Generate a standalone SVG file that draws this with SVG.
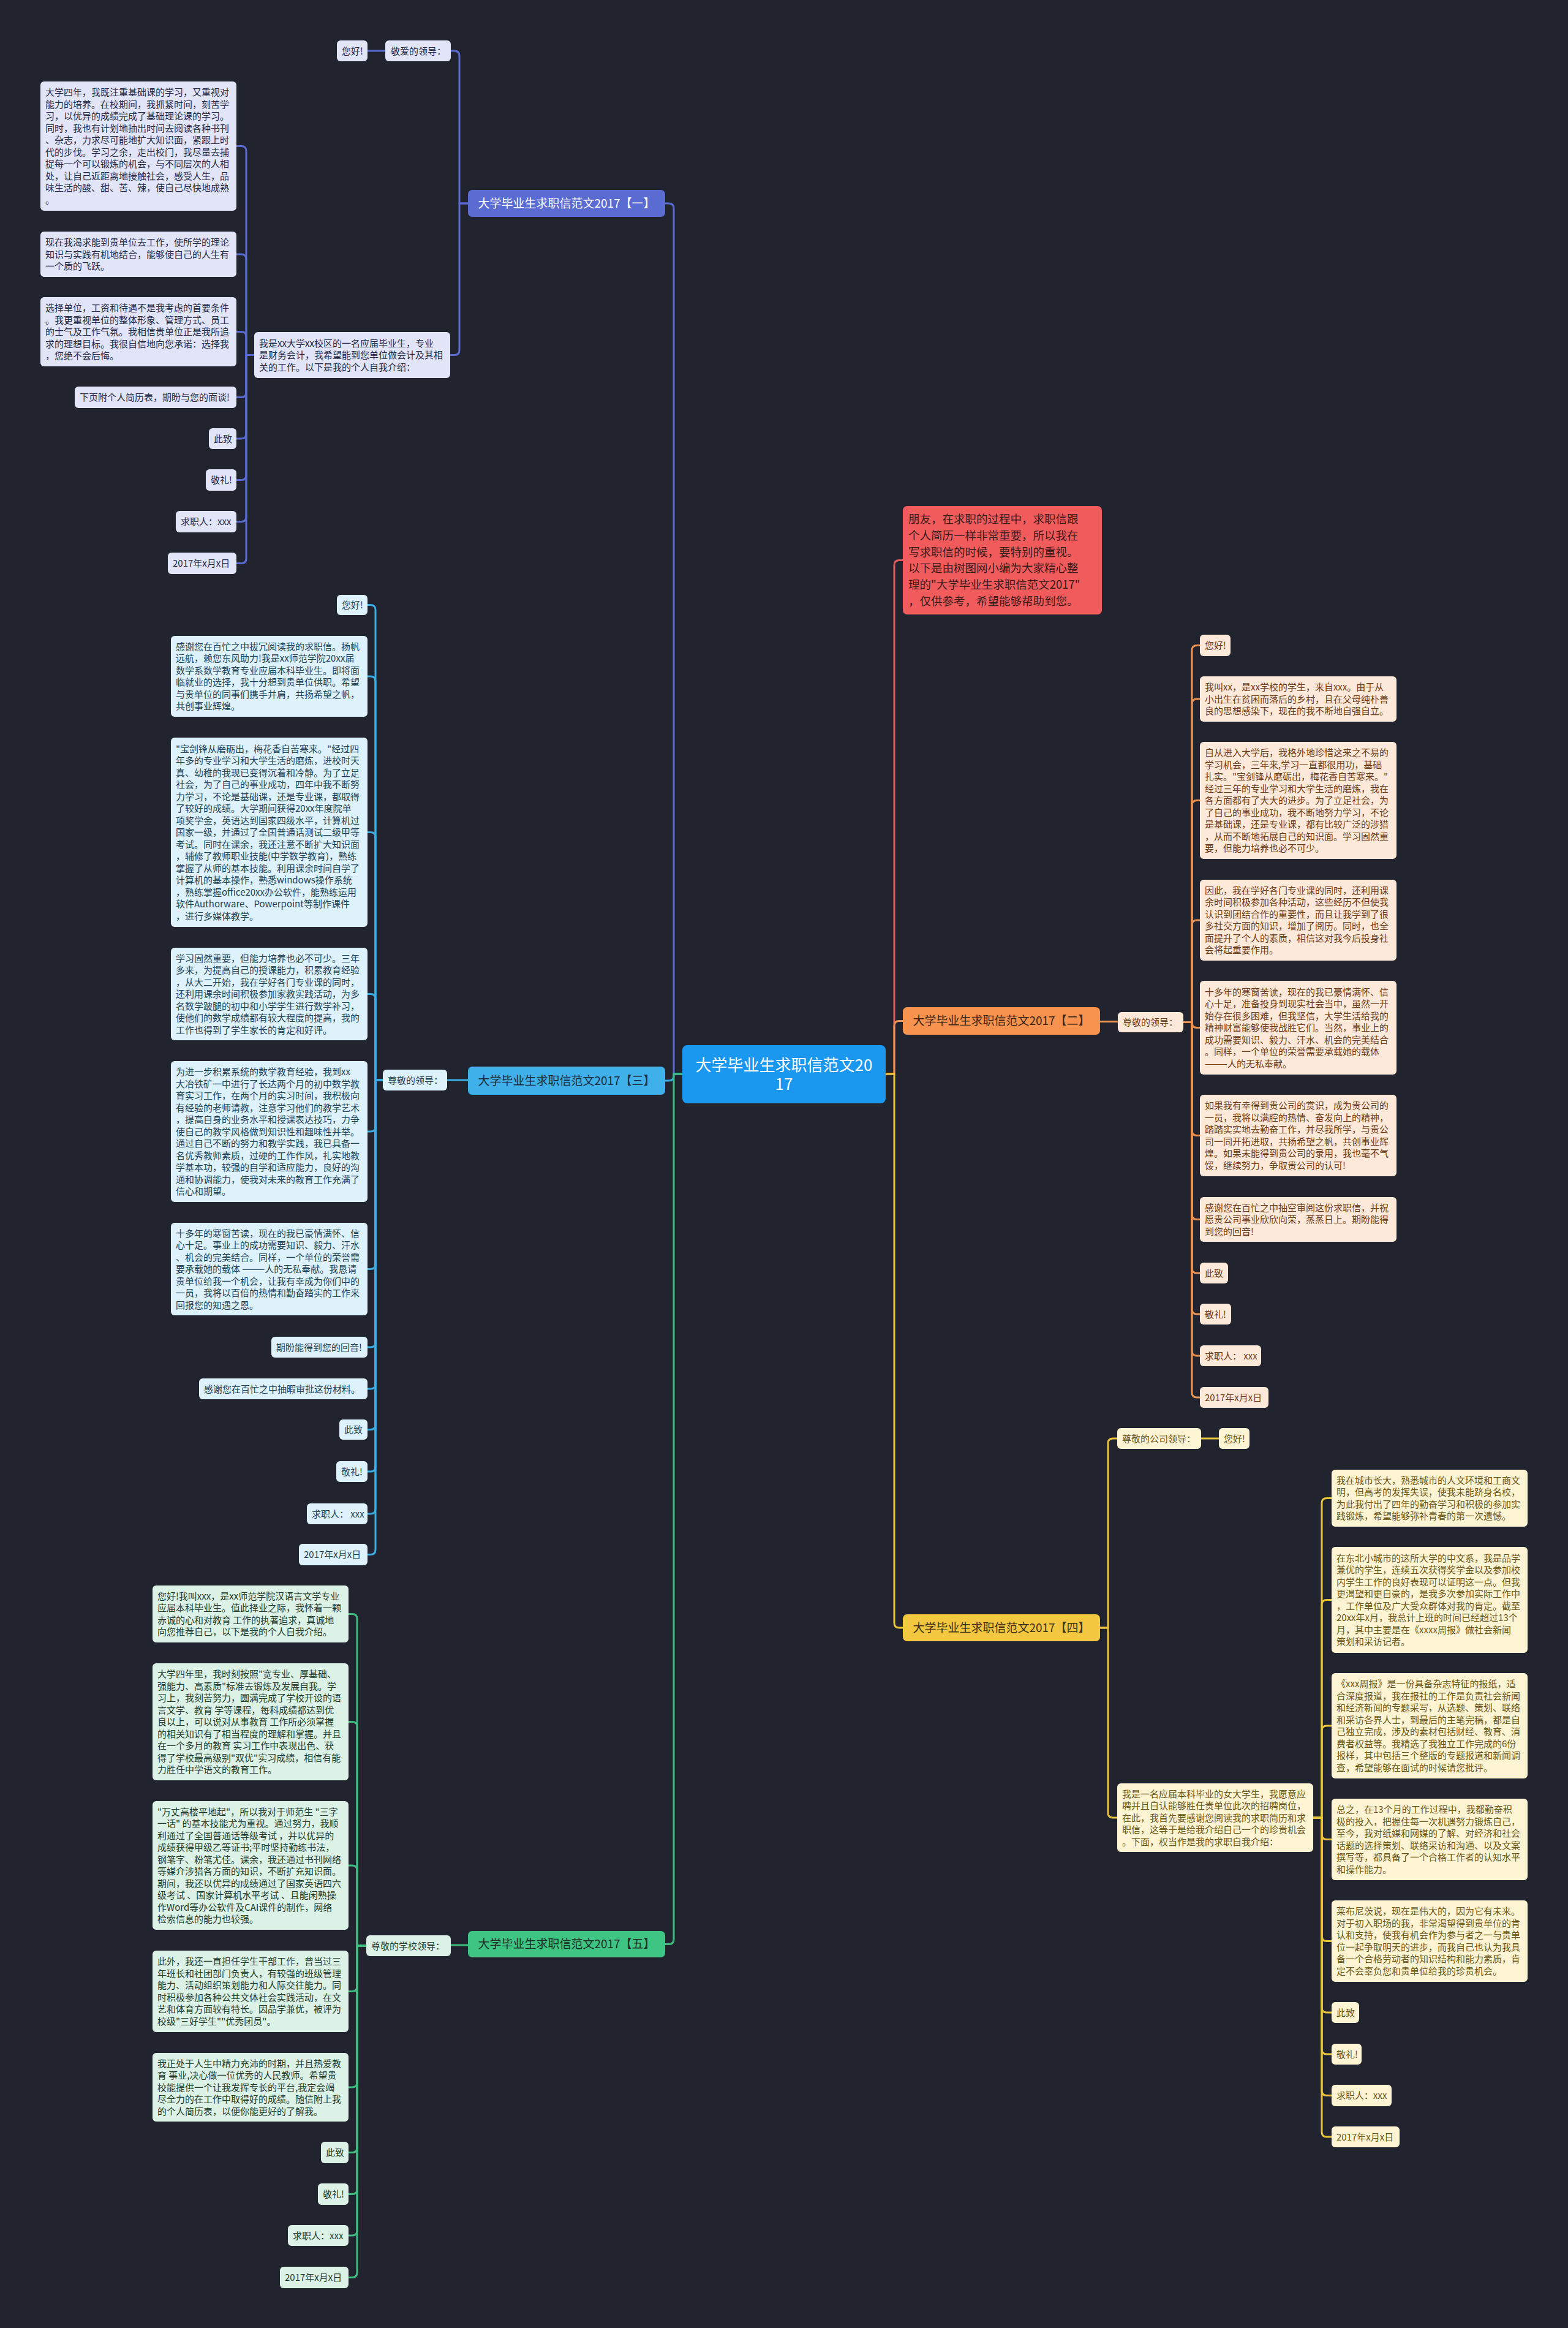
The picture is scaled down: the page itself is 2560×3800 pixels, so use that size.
<svg xmlns="http://www.w3.org/2000/svg" width="2560" height="3800" viewBox="0 0 2560 3800">
<style>
text{font-family:"Noto Sans CJK SC","Noto Sans",sans-serif;font-size:15px}
.c{fill:none;stroke-width:3;stroke-linecap:round;stroke-linejoin:round}
.c1{stroke:#5a6bd2}.c2{stroke:#ee9250}.c3{stroke:#3aaee2}.c4{stroke:#eac43c}.c5{stroke:#3dbe80}.cr{stroke:#e25a5a}
.n1 rect{fill:#e2e5f7}.n1 text{fill:#242a47}
.n2 rect{fill:#fde9d9}.n2 text{fill:#6e3a14}
.n3 rect{fill:#ddf2fb}.n3 text{fill:#1e4257}
.n4 rect{fill:#fdf4d4}.n4 text{fill:#6b5614}
.n5 rect{fill:#dcf2e6}.n5 text{fill:#1f3b2c}
.t text{font-size:19px;text-anchor:middle}
</style>
<rect width="2560" height="3800" fill="#21242f"/>

<g id="connectors">
<path class="c c1" d="M1114 1753H1100V340Q1100 332 1092 332H1086"/>
<path class="c c3" d="M1114 1753H1100V1756Q1100 1764 1092 1764H1086"/>
<path class="c c5" d="M1114 1753H1100V3165.5Q1100 3173.5 1092 3173.5H1086"/>
<path class="c cr" d="M1446 1753H1460V922.5Q1460 914.5 1468 914.5H1474"/>
<path class="c c2" d="M1446 1753H1460V1674.5Q1460 1666.5 1468 1666.5H1474"/>
<path class="c c4" d="M1446 1753H1460V2649Q1460 2657 1468 2657H1474"/>

<path class="c c1" d="M764 332H750V91Q750 83 742 83H736"/>
<path class="c c1" d="M764 332H750V571.5Q750 579.5 742 579.5H735"/>
<path class="c c1" d="M629 83H600"/>
<path class="c c1" d="M415 579.5H402V246.5Q402 238.5 394 238.5H386"/>
<path class="c c1" d="M415 579.5H402V423Q402 415 394 415H386"/>
<path class="c c1" d="M415 579.5H402V549.5Q402 541.5 394 541.5H386"/>
<path class="c c1" d="M415 579.5H402V640.5Q402 648.5 394 648.5H386"/>
<path class="c c1" d="M415 579.5H402V708Q402 716 394 716H386"/>
<path class="c c1" d="M415 579.5H402V775.5Q402 783.5 394 783.5H386"/>
<path class="c c1" d="M415 579.5H402V843.5Q402 851.5 394 851.5H386"/>
<path class="c c1" d="M415 579.5H402V911.5Q402 919.5 394 919.5H386"/>

<path class="c c3" d="M764 1763H730"/>
<path class="c c3" d="M625 1763H613V995.5Q613 987.5 605 987.5H600"/>
<path class="c c3" d="M625 1763H613V1112Q613 1104 605 1104H600"/>
<path class="c c3" d="M625 1763H613V1366.5Q613 1358.5 605 1358.5H600"/>
<path class="c c3" d="M625 1763H613V1630.5Q613 1622.5 605 1622.5H600"/>
<path class="c c3" d="M625 1763H613V1839Q613 1847 605 1847H600"/>
<path class="c c3" d="M625 1763H613V2063.5Q613 2071.5 605 2071.5H600"/>
<path class="c c3" d="M625 1763H613V2191Q613 2199 605 2199H600"/>
<path class="c c3" d="M625 1763H613V2259Q613 2267 605 2267H600"/>
<path class="c c3" d="M625 1763H613V2325.5Q613 2333.5 605 2333.5H600"/>
<path class="c c3" d="M625 1763H613V2394Q613 2402 605 2402H600"/>
<path class="c c3" d="M625 1763H613V2463Q613 2471 605 2471H600"/>
<path class="c c3" d="M625 1763H613V2529.5Q613 2537.5 605 2537.5H600"/>

<path class="c c5" d="M764 3175H736"/>
<path class="c c5" d="M598 3176H583V2642.5Q583 2634.5 575 2634.5H569"/>
<path class="c c5" d="M598 3176H583V2818.5Q583 2810.5 575 2810.5H569"/>
<path class="c c5" d="M598 3176H583V3053Q583 3045 575 3045H569"/>
<path class="c c5" d="M598 3176H583V3242.5Q583 3250.5 575 3250.5H569"/>
<path class="c c5" d="M598 3176H583V3399Q583 3407 575 3407H569"/>
<path class="c c5" d="M598 3176H583V3505.5Q583 3513.5 575 3513.5H569"/>
<path class="c c5" d="M598 3176H583V3573.5Q583 3581.5 575 3581.5H569"/>
<path class="c c5" d="M598 3176H583V3641Q583 3649 575 3649H569"/>
<path class="c c5" d="M598 3176H583V3709.5Q583 3717.5 575 3717.5H569"/>

<path class="c c2" d="M1796 1667.5H1825"/>
<path class="c c2" d="M1932 1668.5H1946V1061.5Q1946 1053.5 1954 1053.5H1959"/>
<path class="c c2" d="M1932 1668.5H1946V1149Q1946 1141 1954 1141H1959"/>
<path class="c c2" d="M1932 1668.5H1946V1314.5Q1946 1306.5 1954 1306.5H1959"/>
<path class="c c2" d="M1932 1668.5H1946V1510Q1946 1502 1954 1502H1959"/>
<path class="c c2" d="M1932 1668.5H1946V1669.5Q1946 1677.5 1954 1677.5H1959"/>
<path class="c c2" d="M1932 1668.5H1946V1845.5Q1946 1853.5 1954 1853.5H1959"/>
<path class="c c2" d="M1932 1668.5H1946V1982.5Q1946 1990.5 1954 1990.5H1959"/>
<path class="c c2" d="M1932 1668.5H1946V2070Q1946 2078 1954 2078H1959"/>
<path class="c c2" d="M1932 1668.5H1946V2137Q1946 2145 1954 2145H1959"/>
<path class="c c2" d="M1932 1668.5H1946V2205Q1946 2213 1954 2213H1959"/>
<path class="c c2" d="M1932 1668.5H1946V2273Q1946 2281 1954 2281H1959"/>

<path class="c c4" d="M1796 2657H1809V2356Q1809 2348 1817 2348H1824"/>
<path class="c c4" d="M1796 2657H1809V2959Q1809 2967 1817 2967H1824"/>
<path class="c c4" d="M1961 2348H1990"/>
<path class="c c4" d="M2144 2967H2158V2453.5Q2158 2445.5 2166 2445.5H2174"/>
<path class="c c4" d="M2144 2967H2158V2619.5Q2158 2611.5 2166 2611.5H2174"/>
<path class="c c4" d="M2144 2967H2158V2825Q2158 2817 2166 2817H2174"/>
<path class="c c4" d="M2144 2967H2158V2994.5Q2158 3002.5 2166 3002.5H2174"/>
<path class="c c4" d="M2144 2967H2158V3160.5Q2158 3168.5 2166 3168.5H2174"/>
<path class="c c4" d="M2144 2967H2158V3277Q2158 3285 2166 3285H2174"/>
<path class="c c4" d="M2144 2967H2158V3345Q2158 3353 2166 3353H2174"/>
<path class="c c4" d="M2144 2967H2158V3412.5Q2158 3420.5 2166 3420.5H2174"/>
<path class="c c4" d="M2144 2967H2158V3480Q2158 3488 2166 3488H2174"/>
</g>

<g id="center">
<rect x="1114" y="1706" width="332" height="95" rx="8" fill="#1a97ee"/>
<text x="1280" y="1748" font-size="26" fill="#ffffff" text-anchor="middle" style="font-size:26px">大学毕业生求职信范文20</text>
<text x="1280" y="1779" font-size="26" fill="#ffffff" text-anchor="middle" style="font-size:26px">17</text>
</g>

<g id="intro">
<rect x="1474" y="826" width="325" height="177" rx="7" fill="#f25b5b"/>
<text x="1483" y="854" fill="#3a1c1c" style="font-size:18.5px"><tspan x="1483">朋友，在求职的过程中，求职信跟</tspan><tspan x="1483" dy="26.8">个人简历一样非常重要，所以我在</tspan><tspan x="1483" dy="26.8">写求职信的时候，要特别的重视。</tspan><tspan x="1483" dy="26.8">以下是由树图网小编为大家精心整</tspan><tspan x="1483" dy="26.8">理的"大学毕业生求职信范文2017"</tspan><tspan x="1483" dy="26.8">，仅供参考，希望能够帮助到您。</tspan></text>
</g>

<!-- Branch 1 -->
<g id="b1-title" class="t"><rect x="764" y="310" width="322" height="44" rx="7" fill="#5a6bd2"/><text x="925" y="338.5" fill="#ffffff">大学毕业生求职信范文2017【一】</text></g>
<g id="b1-leader" class="n1"><rect x="629" y="66" width="107" height="34" rx="6"/><text x="638" y="88.5">敬爱的领导：</text></g>
<g id="b1-hello" class="n1"><rect x="550" y="66" width="50" height="34" rx="6"/><text x="558" y="88.5">您好!</text></g>
<g id="b1-intro" class="n1"><rect x="415" y="542" width="320" height="75" rx="6"/><text x="423" y="565.5"><tspan x="423">我是xx大学xx校区的一名应届毕业生，专业</tspan><tspan x="423" dy="19.5">是财务会计，我希望能到您单位做会计及其相</tspan><tspan x="423" dy="19.5">关的工作。以下是我的个人自我介绍：</tspan></text></g>
<g id="b1-p1" class="n1"><rect x="66" y="133" width="320" height="211" rx="6"/><text x="74" y="156.25"><tspan x="74">大学四年，我既注重基础课的学习，又重视对</tspan><tspan x="74" dy="19.5">能力的培养。在校期间，我抓紧时间，刻苦学</tspan><tspan x="74" dy="19.5">习，以优异的成绩完成了基础理论课的学习。</tspan><tspan x="74" dy="19.5">同时，我也有计划地抽出时间去阅读各种书刊</tspan><tspan x="74" dy="19.5">、杂志，力求尽可能地扩大知识面，紧跟上时</tspan><tspan x="74" dy="19.5">代的步伐。学习之余，走出校门，我尽量去捕</tspan><tspan x="74" dy="19.5">捉每一个可以锻炼的机会，与不同层次的人相</tspan><tspan x="74" dy="19.5">处，让自己近距离地接触社会，感受人生，品</tspan><tspan x="74" dy="19.5">味生活的酸、甜、苦、辣，使自己尽快地成熟</tspan><tspan x="74" dy="19.5">。</tspan></text></g>
<g id="b1-p2" class="n1"><rect x="66" y="378" width="320" height="74" rx="6"/><text x="74" y="401"><tspan x="74">现在我渴求能到贵单位去工作，使所学的理论</tspan><tspan x="74" dy="19.5">知识与实践有机地结合，能够使自己的人生有</tspan><tspan x="74" dy="19.5">一个质的飞跃。</tspan></text></g>
<g id="b1-p3" class="n1"><rect x="66" y="485" width="320" height="113" rx="6"/><text x="74" y="508"><tspan x="74">选择单位，工资和待遇不是我考虑的首要条件</tspan><tspan x="74" dy="19.5">。我更重视单位的整体形象、管理方式、员工</tspan><tspan x="74" dy="19.5">的士气及工作气氛。我相信贵单位正是我所追</tspan><tspan x="74" dy="19.5">求的理想目标。我很自信地向您承诺：选择我</tspan><tspan x="74" dy="19.5">，您绝不会后悔。</tspan></text></g>
<g id="b1-p4" class="n1"><rect x="122" y="631" width="264" height="35" rx="6"/><text x="130" y="654">下页附个人简历表，期盼与您的面谈!</text></g>
<g id="b1-p5" class="n1"><rect x="341" y="699" width="45" height="34" rx="6"/><text x="349" y="721.5">此致</text></g>
<g id="b1-p6" class="n1"><rect x="336" y="766" width="50" height="35" rx="6"/><text x="344" y="789">敬礼!</text></g>
<g id="b1-p7" class="n1"><rect x="287" y="834" width="99" height="35" rx="6"/><text x="295" y="857">求职人：xxx</text></g>
<g id="b1-p8" class="n1"><rect x="274" y="902" width="112" height="35" rx="6"/><text x="282" y="925">2017年x月x日</text></g>

<!-- Branch 3 -->
<g id="b3-title" class="t"><rect x="764" y="1741" width="322" height="46" rx="7" fill="#3fb0ea"/><text x="925" y="1770.5" fill="#1d2b3a">大学毕业生求职信范文2017【三】</text></g>
<g id="b3-leader" class="n3"><rect x="625" y="1746" width="105" height="34" rx="6"/><text x="633" y="1768.5">尊敬的领导：</text></g>
<g id="b3-hello" class="n3"><rect x="550" y="971" width="50" height="33" rx="6"/><text x="558" y="993">您好!</text></g>
<g id="b3-p1" class="n3"><rect x="279" y="1038" width="321" height="132" rx="6"/><text x="287" y="1060.75"><tspan x="287">感谢您在百忙之中拔冗阅读我的求职信。扬帆</tspan><tspan x="287" dy="19.5">远航，赖您东风助力!我是xx师范学院20xx届</tspan><tspan x="287" dy="19.5">数学系数学教育专业应届本科毕业生。即将面</tspan><tspan x="287" dy="19.5">临就业的选择，我十分想到贵单位供职。希望</tspan><tspan x="287" dy="19.5">与贵单位的同事们携手并肩，共扬希望之帆，</tspan><tspan x="287" dy="19.5">共创事业辉煌。</tspan></text></g>
<g id="b3-p2" class="n3"><rect x="279" y="1204" width="321" height="309" rx="6"/><text x="287" y="1227.5"><tspan x="287">"宝剑锋从磨砺出，梅花香自苦寒来。"经过四</tspan><tspan x="287" dy="19.5">年多的专业学习和大学生活的磨炼，进校时天</tspan><tspan x="287" dy="19.5">真、幼稚的我现已变得沉着和冷静。为了立足</tspan><tspan x="287" dy="19.5">社会，为了自己的事业成功，四年中我不断努</tspan><tspan x="287" dy="19.5">力学习，不论是基础课，还是专业课，都取得</tspan><tspan x="287" dy="19.5">了较好的成绩。大学期间获得20xx年度院单</tspan><tspan x="287" dy="19.5">项奖学金，英语达到国家四级水平，计算机过</tspan><tspan x="287" dy="19.5">国家一级，并通过了全国普通话测试二级甲等</tspan><tspan x="287" dy="19.5">考试。同时在课余，我还注意不断扩大知识面</tspan><tspan x="287" dy="19.5">，辅修了教师职业技能(中学数学教育)，熟练</tspan><tspan x="287" dy="19.5">掌握了从师的基本技能。利用课余时间自学了</tspan><tspan x="287" dy="19.5">计算机的基本操作，熟悉windows操作系统</tspan><tspan x="287" dy="19.5">，熟练掌握office20xx办公软件，能熟练运用</tspan><tspan x="287" dy="19.5">软件Authorware、Powerpoint等制作课件</tspan><tspan x="287" dy="19.5">，进行多媒体教学。</tspan></text></g>
<g id="b3-p3" class="n3"><rect x="279" y="1547" width="321" height="151" rx="6"/><text x="287" y="1569.5"><tspan x="287">学习固然重要，但能力培养也必不可少。三年</tspan><tspan x="287" dy="19.5">多来，为提高自己的授课能力，积累教育经验</tspan><tspan x="287" dy="19.5">，从大二开始，我在学好各门专业课的同时，</tspan><tspan x="287" dy="19.5">还利用课余时间积极参加家教实践活动，为多</tspan><tspan x="287" dy="19.5">名数学跛腿的初中和小学学生进行数学补习，</tspan><tspan x="287" dy="19.5">使他们的数学成绩都有较大程度的提高，我的</tspan><tspan x="287" dy="19.5">工作也得到了学生家长的肯定和好评。</tspan></text></g>
<g id="b3-p4" class="n3"><rect x="279" y="1732" width="321" height="230" rx="6"/><text x="287" y="1755"><tspan x="287">为进一步积累系统的数学教育经验，我到xx</tspan><tspan x="287" dy="19.5">大冶铁矿一中进行了长达两个月的初中数学教</tspan><tspan x="287" dy="19.5">育实习工作，在两个月的实习时间，我积极向</tspan><tspan x="287" dy="19.5">有经验的老师请教，注意学习他们的教学艺术</tspan><tspan x="287" dy="19.5">，提高自身的业务水平和授课表达技巧，力争</tspan><tspan x="287" dy="19.5">使自己的教学风格做到知识性和趣味性并举。</tspan><tspan x="287" dy="19.5">通过自己不断的努力和教学实践，我已具备一</tspan><tspan x="287" dy="19.5">名优秀教师素质，过硬的工作作风，扎实地教</tspan><tspan x="287" dy="19.5">学基本功，较强的自学和适应能力，良好的沟</tspan><tspan x="287" dy="19.5">通和协调能力，使我对未来的教育工作充满了</tspan><tspan x="287" dy="19.5">信心和期望。</tspan></text></g>
<g id="b3-p5" class="n3"><rect x="279" y="1996" width="321" height="151" rx="6"/><text x="287" y="2018.5"><tspan x="287">十多年的寒窗苦读，现在的我已豪情满怀、信</tspan><tspan x="287" dy="19.5">心十足。事业上的成功需要知识、毅力、汗水</tspan><tspan x="287" dy="19.5">、机会的完美结合。同样，一个单位的荣誉需</tspan><tspan x="287" dy="19.5">要承载她的载体 ———人的无私奉献。我恳请</tspan><tspan x="287" dy="19.5">贵单位给我一个机会，让我有幸成为你们中的</tspan><tspan x="287" dy="19.5">一员，我将以百倍的热情和勤奋踏实的工作来</tspan><tspan x="287" dy="19.5">回报您的知遇之恩。</tspan></text></g>
<g id="b3-p6" class="n3"><rect x="443" y="2182" width="157" height="34" rx="6"/><text x="451" y="2204.5">期盼能得到您的回音!</text></g>
<g id="b3-p7" class="n3"><rect x="325" y="2250" width="275" height="34" rx="6"/><text x="333" y="2272.5">感谢您在百忙之中抽暇审批这份材料。</text></g>
<g id="b3-p8" class="n3"><rect x="554" y="2317" width="46" height="33" rx="6"/><text x="562" y="2339">此致</text></g>
<g id="b3-p9" class="n3"><rect x="549" y="2385" width="51" height="34" rx="6"/><text x="557" y="2407.5">敬礼!</text></g>
<g id="b3-p10" class="n3"><rect x="501" y="2454" width="99" height="34" rx="6"/><text x="509" y="2476.5">求职人： xxx</text></g>
<g id="b3-p11" class="n3"><rect x="488" y="2520" width="112" height="35" rx="6"/><text x="496" y="2543">2017年x月x日</text></g>

<!-- Branch 5 -->
<g id="b5-title" class="t"><rect x="764" y="3152" width="322" height="43" rx="7" fill="#3ec483"/><text x="925" y="3180" fill="#1d2f26">大学毕业生求职信范文2017【五】</text></g>
<g id="b5-leader" class="n5"><rect x="598" y="3159" width="138" height="34" rx="6"/><text x="606" y="3181.5">尊敬的学校领导：</text></g>
<g id="b5-p1" class="n5"><rect x="249" y="2588" width="320" height="93" rx="6"/><text x="257" y="2610.75"><tspan x="257">您好!我叫xxx，是xx师范学院汉语言文学专业</tspan><tspan x="257" dy="19.5">应届本科毕业生。值此择业之际，我怀着一颗</tspan><tspan x="257" dy="19.5">赤诚的心和对教育 工作的执著追求，真诚地</tspan><tspan x="257" dy="19.5">向您推荐自己，以下是我的个人自我介绍。</tspan></text></g>
<g id="b5-p2" class="n5"><rect x="249" y="2715" width="320" height="191" rx="6"/><text x="257" y="2738"><tspan x="257">大学四年里，我时刻按照"宽专业、厚基础、</tspan><tspan x="257" dy="19.5">强能力、高素质"标准去锻炼及发展自我。学</tspan><tspan x="257" dy="19.5">习上，我刻苦努力，圆满完成了学校开设的语</tspan><tspan x="257" dy="19.5">言文学、教育 学等课程，每科成绩都达到优</tspan><tspan x="257" dy="19.5">良以上，可以说对从事教育 工作所必须掌握</tspan><tspan x="257" dy="19.5">的相关知识有了相当程度的理解和掌握。并且</tspan><tspan x="257" dy="19.5">在一个多月的教育 实习工作中表现出色、获</tspan><tspan x="257" dy="19.5">得了学校最高级别"双优"实习成绩，相信有能</tspan><tspan x="257" dy="19.5">力胜任中学语文的教育工作。</tspan></text></g>
<g id="b5-p3" class="n5"><rect x="249" y="2940" width="320" height="210" rx="6"/><text x="257" y="2962.75"><tspan x="257">"万丈高楼平地起"，所以我对于师范生 "三字</tspan><tspan x="257" dy="19.5">一话" 的基本技能尤为重视。通过努力，我顺</tspan><tspan x="257" dy="19.5">利通过了全国普通话等级考试 ，并以优异的</tspan><tspan x="257" dy="19.5">成绩获得甲级乙等证书;平时坚持勤练书法，</tspan><tspan x="257" dy="19.5">钢笔字、粉笔尤佳。课余，我还通过书刊网络</tspan><tspan x="257" dy="19.5">等媒介涉猎各方面的知识，不断扩充知识面。</tspan><tspan x="257" dy="19.5">期间，我还以优异的成绩通过了国家英语四六</tspan><tspan x="257" dy="19.5">级考试 、国家计算机水平考试 、且能闲熟操</tspan><tspan x="257" dy="19.5">作Word等办公软件及CAI课件的制作，网络</tspan><tspan x="257" dy="19.5">检索信息的能力也较强。</tspan></text></g>
<g id="b5-p4" class="n5"><rect x="249" y="3184" width="320" height="133" rx="6"/><text x="257" y="3207.25"><tspan x="257">此外，我还一直担任学生干部工作，曾当过三</tspan><tspan x="257" dy="19.5">年班长和社团部门负责人，有较强的班级管理</tspan><tspan x="257" dy="19.5">能力、活动组织策划能力和人际交往能力。同</tspan><tspan x="257" dy="19.5">时积极参加各种公共文体社会实践活动，在文</tspan><tspan x="257" dy="19.5">艺和体育方面较有特长。因品学兼优，被评为</tspan><tspan x="257" dy="19.5">校级"三好学生""优秀团员"。</tspan></text></g>
<g id="b5-p5" class="n5"><rect x="249" y="3351" width="320" height="112" rx="6"/><text x="257" y="3373.5"><tspan x="257">我正处于人生中精力充沛的时期，并且热爱教</tspan><tspan x="257" dy="19.5">育 事业,决心做一位优秀的人民教师。希望贵</tspan><tspan x="257" dy="19.5">校能提供一个让我发挥专长的平台,我定会竭</tspan><tspan x="257" dy="19.5">尽全力的在工作中取得好的成绩。随信附上我</tspan><tspan x="257" dy="19.5">的个人简历表，以便你能更好的了解我。</tspan></text></g>
<g id="b5-p6" class="n5"><rect x="524" y="3496" width="45" height="35" rx="6"/><text x="532" y="3519">此致</text></g>
<g id="b5-p7" class="n5"><rect x="519" y="3564" width="50" height="35" rx="6"/><text x="527" y="3587">敬礼!</text></g>
<g id="b5-p8" class="n5"><rect x="470" y="3632" width="99" height="34" rx="6"/><text x="478" y="3654.5">求职人：xxx</text></g>
<g id="b5-p9" class="n5"><rect x="457" y="3700" width="112" height="35" rx="6"/><text x="465" y="3723">2017年x月x日</text></g>

<!-- Branch 2 -->
<g id="b2-title" class="t"><rect x="1474" y="1644" width="322" height="45" rx="7" fill="#f7934e"/><text x="1635" y="1673" fill="#3a2416">大学毕业生求职信范文2017【二】</text></g>
<g id="b2-leader" class="n2"><rect x="1825" y="1652" width="107" height="33" rx="6"/><text x="1833" y="1674">尊敬的领导：</text></g>
<g id="b2-hello" class="n2"><rect x="1959" y="1036" width="50" height="35" rx="6"/><text x="1967" y="1059">您好!</text></g>
<g id="b2-p1" class="n2"><rect x="1959" y="1104" width="321" height="74" rx="6"/><text x="1967" y="1127"><tspan x="1967">我叫xx，是xx学校的学生，来自xxx。由于从</tspan><tspan x="1967" dy="19.5">小出生在贫困而落后的乡村，且在父母纯朴善</tspan><tspan x="1967" dy="19.5">良的思想感染下，现在的我不断地自强自立。</tspan></text></g>
<g id="b2-p2" class="n2"><rect x="1959" y="1211" width="321" height="191" rx="6"/><text x="1967" y="1234"><tspan x="1967">自从进入大学后，我格外地珍惜这来之不易的</tspan><tspan x="1967" dy="19.5">学习机会，三年来,学习一直都很用功，基础</tspan><tspan x="1967" dy="19.5">扎实。"宝剑锋从磨砺出，梅花香自苦寒来。"</tspan><tspan x="1967" dy="19.5">经过三年的专业学习和大学生活的磨炼，我在</tspan><tspan x="1967" dy="19.5">各方面都有了大大的进步。为了立足社会，为</tspan><tspan x="1967" dy="19.5">了自己的事业成功，我不断地努力学习，不论</tspan><tspan x="1967" dy="19.5">是基础课，还是专业课，都有比较广泛的涉猎</tspan><tspan x="1967" dy="19.5">，从而不断地拓展自己的知识面。学习固然重</tspan><tspan x="1967" dy="19.5">要，但能力培养也必不可少。</tspan></text></g>
<g id="b2-p3" class="n2"><rect x="1959" y="1436" width="321" height="132" rx="6"/><text x="1967" y="1458.75"><tspan x="1967">因此，我在学好各门专业课的同时，还利用课</tspan><tspan x="1967" dy="19.5">余时间积极参加各种活动，这些经历不但使我</tspan><tspan x="1967" dy="19.5">认识到团结合作的重要性，而且让我学到了很</tspan><tspan x="1967" dy="19.5">多社交方面的知识，增加了阅历。同时，也全</tspan><tspan x="1967" dy="19.5">面提升了个人的素质，相信这对我今后投身社</tspan><tspan x="1967" dy="19.5">会将起重要作用。</tspan></text></g>
<g id="b2-p4" class="n2"><rect x="1959" y="1601" width="321" height="153" rx="6"/><text x="1967" y="1624.5"><tspan x="1967">十多年的寒窗苦读，现在的我已豪情满怀、信</tspan><tspan x="1967" dy="19.5">心十足，准备投身到现实社会当中，虽然一开</tspan><tspan x="1967" dy="19.5">始存在很多困难，但我坚信，大学生活给我的</tspan><tspan x="1967" dy="19.5">精神财富能够使我战胜它们。当然，事业上的</tspan><tspan x="1967" dy="19.5">成功需要知识、毅力、汗水、机会的完美结合</tspan><tspan x="1967" dy="19.5">。同样，一个单位的荣誉需要承载她的载体</tspan><tspan x="1967" dy="19.5">———人的无私奉献。</tspan></text></g>
<g id="b2-p5" class="n2"><rect x="1959" y="1787" width="321" height="133" rx="6"/><text x="1967" y="1810.25"><tspan x="1967">如果我有幸得到贵公司的赏识，成为贵公司的</tspan><tspan x="1967" dy="19.5">一员，我将以满腔的热情、奋发向上的精神，</tspan><tspan x="1967" dy="19.5">踏踏实实地去勤奋工作，并尽我所学，与贵公</tspan><tspan x="1967" dy="19.5">司一同开拓进取，共扬希望之帆，共创事业辉</tspan><tspan x="1967" dy="19.5">煌。如果未能得到贵公司的录用，我也毫不气</tspan><tspan x="1967" dy="19.5">馁，继续努力，争取贵公司的认可!</tspan></text></g>
<g id="b2-p6" class="n2"><rect x="1959" y="1954" width="321" height="73" rx="6"/><text x="1967" y="1976.5"><tspan x="1967">感谢您在百忙之中抽空审阅这份求职信，并祝</tspan><tspan x="1967" dy="19.5">愿贵公司事业欣欣向荣，蒸蒸日上。期盼能得</tspan><tspan x="1967" dy="19.5">到您的回音!</tspan></text></g>
<g id="b2-p7" class="n2"><rect x="1959" y="2061" width="46" height="34" rx="6"/><text x="1967" y="2083.5">此致</text></g>
<g id="b2-p8" class="n2"><rect x="1959" y="2128" width="51" height="34" rx="6"/><text x="1967" y="2150.5">敬礼!</text></g>
<g id="b2-p9" class="n2"><rect x="1959" y="2196" width="100" height="34" rx="6"/><text x="1967" y="2218.5">求职人： xxx</text></g>
<g id="b2-p10" class="n2"><rect x="1959" y="2264" width="112" height="34" rx="6"/><text x="1967" y="2286.5">2017年x月x日</text></g>

<!-- Branch 4 -->
<g id="b4-title" class="t"><rect x="1474" y="2635" width="322" height="44" rx="7" fill="#f4c741"/><text x="1635" y="2663.5" fill="#3a3116">大学毕业生求职信范文2017【四】</text></g>
<g id="b4-leader" class="n4"><rect x="1824" y="2331" width="137" height="34" rx="6"/><text x="1832" y="2353.5">尊敬的公司领导：</text></g>
<g id="b4-hello" class="n4"><rect x="1990" y="2331" width="50" height="34" rx="6"/><text x="1998" y="2353.5">您好!</text></g>
<g id="b4-intro" class="n4"><rect x="1824" y="2911" width="320" height="112" rx="6"/><text x="1832" y="2933.5"><tspan x="1832">我是一名应届本科毕业的女大学生，我愿意应</tspan><tspan x="1832" dy="19.5">聘并且自认能够胜任贵单位此次的招聘岗位，</tspan><tspan x="1832" dy="19.5">在此，我首先要感谢您阅读我的求职简历和求</tspan><tspan x="1832" dy="19.5">职信，这等于是给我介绍自己一个的珍贵机会</tspan><tspan x="1832" dy="19.5">。下面，权当作是我的求职自我介绍：</tspan></text></g>
<g id="b4-p1" class="n4"><rect x="2174" y="2399" width="320" height="93" rx="6"/><text x="2182" y="2421.75"><tspan x="2182">我在城市长大，熟悉城市的人文环境和工商文</tspan><tspan x="2182" dy="19.5">明，但高考的发挥失误，使我未能跻身名校，</tspan><tspan x="2182" dy="19.5">为此我付出了四年的勤奋学习和积极的参加实</tspan><tspan x="2182" dy="19.5">践锻炼，希望能够弥补青春的第一次遗憾。</tspan></text></g>
<g id="b4-p2" class="n4"><rect x="2174" y="2525" width="320" height="173" rx="6"/><text x="2182" y="2548.75"><tspan x="2182">在东北小城市的这所大学的中文系，我是品学</tspan><tspan x="2182" dy="19.5">兼优的学生，连续五次获得奖学金以及参加校</tspan><tspan x="2182" dy="19.5">内学生工作的良好表现可以证明这一点。但我</tspan><tspan x="2182" dy="19.5">更渴望和更自豪的，是我多次参加实际工作中</tspan><tspan x="2182" dy="19.5">，工作单位及广大受众群体对我的肯定。截至</tspan><tspan x="2182" dy="19.5">20xx年x月，我总计上班的时间已经超过13个</tspan><tspan x="2182" dy="19.5">月，其中主要是在《xxxx周报》做社会新闻</tspan><tspan x="2182" dy="19.5">策划和采访记者。</tspan></text></g>
<g id="b4-p3" class="n4"><rect x="2174" y="2731" width="320" height="172" rx="6"/><text x="2182" y="2754.25"><tspan x="2182">《xxx周报》是一份具备杂志特征的报纸，适</tspan><tspan x="2182" dy="19.5">合深度报道，我在报社的工作是负责社会新闻</tspan><tspan x="2182" dy="19.5">和经济新闻的专题采写，从选题、策划、联络</tspan><tspan x="2182" dy="19.5">和采访各界人士，到最后的主笔完稿，都是自</tspan><tspan x="2182" dy="19.5">己独立完成，涉及的素材包括财经、教育、消</tspan><tspan x="2182" dy="19.5">费者权益等。我精选了我独立工作完成的6份</tspan><tspan x="2182" dy="19.5">报样，其中包括三个整版的专题报道和新闻调</tspan><tspan x="2182" dy="19.5">查，希望能够在面试的时候请您批评。</tspan></text></g>
<g id="b4-p4" class="n4"><rect x="2174" y="2936" width="320" height="133" rx="6"/><text x="2182" y="2959.25"><tspan x="2182">总之，在13个月的工作过程中，我都勤奋积</tspan><tspan x="2182" dy="19.5">极的投入，把握住每一次机遇努力锻炼自己，</tspan><tspan x="2182" dy="19.5">至今，我对纸媒和网媒的了解、对经济和社会</tspan><tspan x="2182" dy="19.5">话题的选择策划、联络采访和沟通、以及文案</tspan><tspan x="2182" dy="19.5">撰写等，都具备了一个合格工作者的认知水平</tspan><tspan x="2182" dy="19.5">和操作能力。</tspan></text></g>
<g id="b4-p5" class="n4"><rect x="2174" y="3102" width="320" height="133" rx="6"/><text x="2182" y="3125.25"><tspan x="2182">莱布尼茨说，现在是伟大的，因为它有未来。</tspan><tspan x="2182" dy="19.5">对于初入职场的我，非常渴望得到贵单位的肯</tspan><tspan x="2182" dy="19.5">认和支持，使我有机会作为参与者之一与贵单</tspan><tspan x="2182" dy="19.5">位一起争取明天的进步，而我自己也认为我具</tspan><tspan x="2182" dy="19.5">备一个合格劳动者的知识结构和能力素质，肯</tspan><tspan x="2182" dy="19.5">定不会辜负您和贵单位给我的珍贵机会。</tspan></text></g>
<g id="b4-p6" class="n4"><rect x="2174" y="3268" width="45" height="34" rx="6"/><text x="2182" y="3290.5">此致</text></g>
<g id="b4-p7" class="n4"><rect x="2174" y="3336" width="49" height="34" rx="6"/><text x="2182" y="3358.5">敬礼!</text></g>
<g id="b4-p8" class="n4"><rect x="2174" y="3403" width="98" height="35" rx="6"/><text x="2182" y="3426">求职人：xxx</text></g>
<g id="b4-p9" class="n4"><rect x="2174" y="3471" width="111" height="34" rx="6"/><text x="2182" y="3493.5">2017年x月x日</text></g>
</svg>
